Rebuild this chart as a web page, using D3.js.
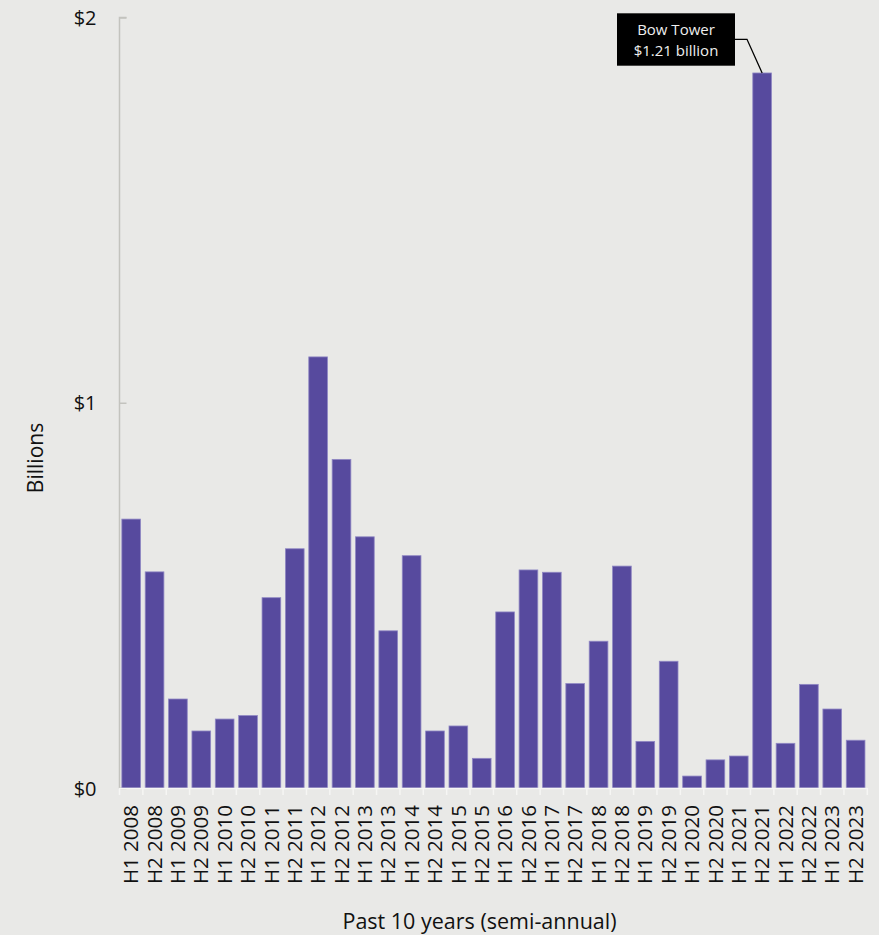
<!DOCTYPE html>
<html>
<head>
<meta charset="utf-8">
<script src="https://cdn.jsdelivr.net/npm/d3@7"></script>
<style>
  html, body { margin: 0; padding: 0; background: #e9e9e7; }
  svg { display: block; font-family: "Open Sans", sans-serif; }
</style>
</head>
<body>
<div id="chart"></div>
<script>
// semi-annual periods
var periods = ["H1 2008","H2 2008","H1 2009","H2 2009","H1 2010","H2 2010","H1 2011","H2 2011",
  "H1 2012","H2 2012","H1 2013","H2 2013","H1 2014","H2 2014","H1 2015","H2 2015",
  "H1 2016","H2 2016","H1 2017","H2 2017","H1 2018","H2 2018","H1 2019","H2 2019",
  "H1 2020","H2 2020","H1 2021","H2 2021","H1 2022","H2 2022","H1 2023","H2 2023"];
// billions
var values = [0.698,0.561,0.231,0.148,0.179,0.188,0.494,0.621,
  1.119,0.853,0.652,0.408,0.603,0.148,0.161,0.077,
  0.457,0.566,0.560,0.271,0.381,0.576,0.121,0.329,
  0.031,0.073,0.083,1.856,0.116,0.269,0.205,0.124];
var yTicks = [0, 1, 2];
var callout = { period: "H2 2021", lines: ["Bow Tower", "$1.21 billion"] };

var svgWidth = 879, svgHeight = 935;
var margin = { top: 17.5, right: 11.7, bottom: 147, left: 119.5 };
var width = svgWidth - margin.left - margin.right;
var height = svgHeight - margin.top - margin.bottom;

var svg = d3.select("#chart").append("svg")
  .attr("width", svgWidth)
  .attr("height", svgHeight);

var chartGroup = svg.append("g")
  .attr("transform", `translate(${margin.left}, ${margin.top})`);

var x = d3.scaleBand()
  .domain(periods)
  .range([0, width])
  .paddingInner(0.2)
  .paddingOuter(0.1);

var y = d3.scaleLinear()
  .domain([0, 2])
  .range([height, 0]);

// y axis
var yAxis = chartGroup.append("g")
  .call(d3.axisRight(y).tickValues(yTicks).tickSize(7).tickFormat(d => "$" + d))
  .attr("font-family", null)
  .attr("font-size", null);
yAxis.select(".domain").attr("stroke", "#c3c3be").attr("stroke-width", 1.5)
  .attr("d", `M7,0H0V${height}H7`);
yAxis.selectAll(".tick line").attr("stroke", "#c3c3be").attr("stroke-width", 1.5);
yAxis.selectAll(".tick text")
  .attr("x", -23)
  .attr("dy", "0.35em")
  .attr("text-anchor", "end")
  .style("font-size", "20px")
  .attr("fill", "#111");

// bars
chartGroup.selectAll(".bar")
  .data(values)
  .enter()
  .append("rect")
  .attr("class", "bar")
  .attr("x", (d, i) => x(periods[i]))
  .attr("y", d => y(d))
  .attr("width", x.bandwidth())
  .attr("height", d => height - y(d))
  .attr("fill", "#574a9e")
  .attr("stroke", "#9088c4")
  .attr("stroke-width", 0.8);

// x axis baseline and separators
var xAxis = chartGroup.append("g")
  .attr("transform", `translate(0, ${height})`);
xAxis.append("line")
  .attr("x1", 0).attr("x2", width)
  .attr("y1", 0.5).attr("y2", 0.5)
  .attr("stroke", "#f6f6f4").attr("stroke-width", 1.5);
var step = x.step();
xAxis.selectAll(".sep")
  .data(d3.range(periods.length + 1))
  .enter()
  .append("line")
  .attr("x1", i => x(periods[0]) - (step - x.bandwidth()) / 2 + i * step)
  .attr("x2", i => x(periods[0]) - (step - x.bandwidth()) / 2 + i * step)
  .attr("y1", 0).attr("y2", 7)
  .attr("stroke", "#f6f6f4").attr("stroke-width", 1.5);

xAxis.selectAll(".xlab")
  .data(periods)
  .enter()
  .append("text")
  .attr("transform", d => `translate(${x(d) + x.bandwidth() / 2}, 17) rotate(-90)`)
  .attr("dy", "0.35em")
  .attr("text-anchor", "end")
  .style("font-size", "20.5px")
  .attr("fill", "#111")
  .text(d => d);

// axis titles
svg.append("text")
  .attr("transform", "translate(43, 458) rotate(-90)")
  .attr("text-anchor", "middle")
  .style("font-size", "21px")
  .attr("fill", "#111")
  .text("Billions");

svg.append("text")
  .attr("x", 479.5)
  .attr("y", 929)
  .attr("text-anchor", "middle")
  .style("font-size", "21.5px")
  .attr("fill", "#111")
  .text("Past 10 years (semi-annual)");

// callout
var ci = periods.indexOf(callout.period);
var cx = margin.left + x(callout.period) + x.bandwidth() / 2;
var cy = margin.top + y(values[ci]);
var boxX = 617, boxY = 13.3, boxW = 118, boxH = 52.4;
svg.append("path")
  .attr("d", `M${boxX + boxW},39.3H747L${cx},${cy}`)
  .attr("fill", "none")
  .attr("stroke", "#000")
  .attr("stroke-width", 1.3);
svg.append("rect")
  .attr("x", boxX).attr("y", boxY)
  .attr("width", boxW).attr("height", boxH)
  .attr("fill", "#000");
svg.append("text")
  .attr("x", boxX + boxW / 2)
  .attr("text-anchor", "middle")
  .attr("fill", "#eee")
  .style("font-size", "15px")
  .selectAll("tspan")
  .data(callout.lines)
  .enter()
  .append("tspan")
  .attr("x", boxX + boxW / 2)
  .attr("y", (d, i) => 34.5 + i * 21)
  .text(d => d);
</script>
</body>
</html>
